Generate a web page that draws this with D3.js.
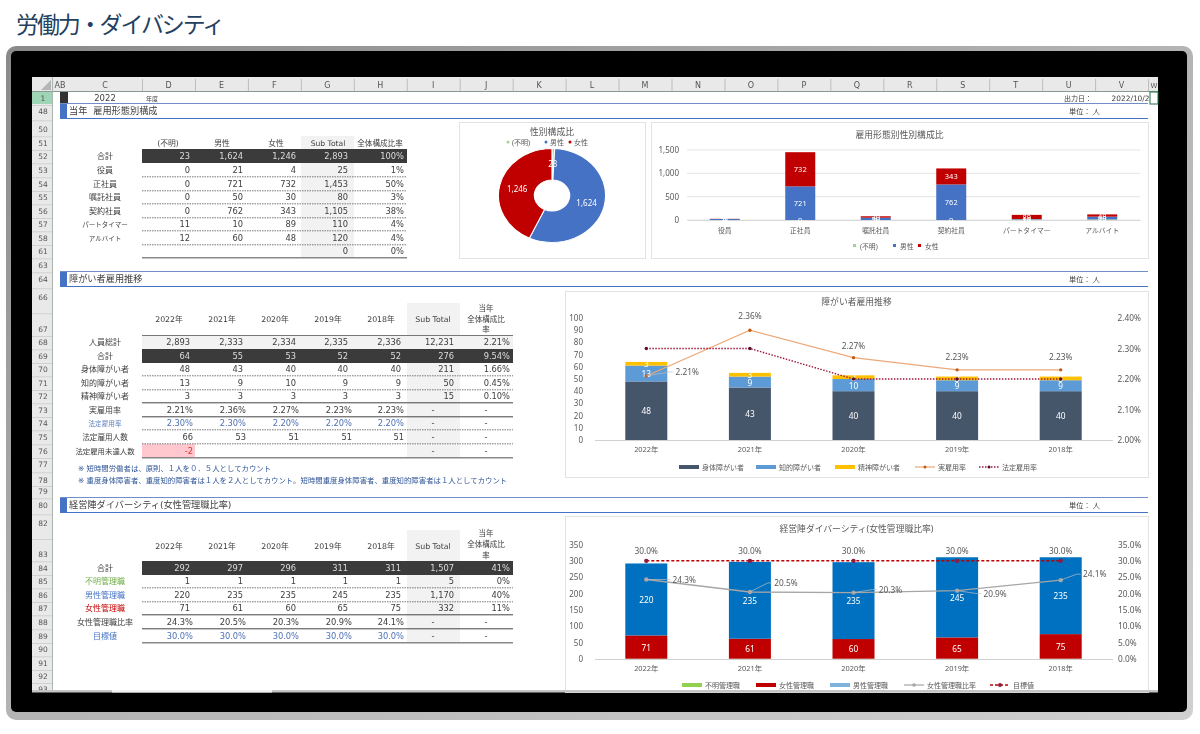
<!DOCTYPE html>
<html lang="ja"><head><meta charset="utf-8">
<script src="https://cdn.jsdelivr.net/npm/d3@7"></script>
<style>
html,body{margin:0;padding:0;background:#fff;overflow:hidden}
svg{display:block}
text{font-family:"DejaVu Sans","Noto Sans CJK JP",sans-serif;font-size:8px;fill:#404040;white-space:pre}
.ch text{font-family:"Noto Sans","Noto Sans CJK JP",sans-serif;fill:#595959}
</style></head><body><div id="c"></div>
<script>
// ---------- sheet furniture ----------
const pageTitle = "労働力・ダイバシティ";
const colLetters = ["C","D","E","F","G","H","I","J","K","L","M","N","O","P","Q","R","S","T","U","V"];
const rowNumbers = [1,48,50,51,52,53,54,55,56,57,58,61,63,64,66,67,68,69,70,71,72,73,74,75,76,77,78,79,80,82,83,84,85,86,87,88,89,90,91,92,93];
const sectionTitles = ["当年  雇用形態別構成","障がい者雇用推移","経営陣ダイバーシティ(女性管理職比率)"];
// ---------- table 1 ----------
const empHead = ["(不明)","男性","女性","Sub Total","全体構成比率"];
const empRows = [
 ["合計","23","1,624","1,246","2,893","100%"],
 ["役員","0","21","4","25","1%"],
 ["正社員","0","721","732","1,453","50%"],
 ["嘱託社員","0","50","30","80","3%"],
 ["契約社員","0","762","343","1,105","38%"],
 ["パートタイマー","11","10","89","110","4%"],
 ["アルバイト","12","60","48","120","4%"],
 ["","","","","0","0%"]];
// ---------- table 2 ----------
const yearHead = ["2022年","2021年","2020年","2019年","2018年","Sub Total"];
const shareHead = ["当年","全体構成比","率"];
const disRows = [
 ["人員総計","2,893","2,333","2,334","2,335","2,336","12,231","2.21%"],
 ["合計","64","55","53","52","52","276","9.54%"],
 ["身体障がい者","48","43","40","40","40","211","1.66%"],
 ["知的障がい者","13","9","10","9","9","50","0.45%"],
 ["精神障がい者","3","3","3","3","3","15","0.10%"],
 ["実雇用率","2.21%","2.36%","2.27%","2.23%","2.23%","-","-"],
 ["法定雇用率","2.30%","2.30%","2.20%","2.20%","2.20%","-","-"],
 ["法定雇用人数","66","53","51","51","51","-","-"],
 ["法定雇用未達人数","-2","","","","","-","-"]];
const notes = ["※ 短時間労働者は、原則、１人を０．５人としてカウント",
 "※ 重度身体障害者、重度知的障害者は１人を２人としてカウント。短時間重度身体障害者、重度知的障害者は１人としてカウント"];
// ---------- table 3 ----------
const mgrRows = [
 ["合計","292","297","296","311","311","1,507","41%"],
 ["不明管理職","1","1","1","1","1","5","0%"],
 ["男性管理職","220","235","235","245","235","1,170","40%"],
 ["女性管理職","71","61","60","65","75","332","11%"],
 ["女性管理職比率","24.3%","20.5%","20.3%","20.9%","24.1%","-","-"],
 ["目標値","30.0%","30.0%","30.0%","30.0%","30.0%","-","-"]];
// ---------- charts ----------
const genderNames = ["(不明)","男性","女性"];
const genderTotals = [23,1624,1246];
const empCats = ["役員","正社員","嘱託社員","契約社員","パートタイマー","アルバイト"];
const empUnknown = [0,0,0,0,11,12];
const empMale = [21,721,50,762,10,60];
const empFemale = [4,732,30,343,89,48];
const years = ["2022年","2021年","2020年","2019年","2018年"];
const disPhysical = [48,43,40,40,40];
const disIntellectual = [13,9,10,9,9];
const disMental = [3,3,3,3,3];
const disActual = [2.21,2.36,2.27,2.23,2.23];
const disLegal = [2.30,2.30,2.20,2.20,2.20];
const mgrUnknown = [1,1,1,1,1];
const mgrFemale = [71,61,60,65,75];
const mgrMale = [220,235,235,245,235];
const mgrRatio = [24.3,20.5,20.3,20.9,24.1];
const mgrTarget = [30,30,30,30,30];

const svg = d3.select("#c").append("svg").attr("width",1200).attr("height",734);
const defs = svg.append("defs");
const g0 = defs.append("linearGradient").attr("id","fr").attr("x1",0).attr("y1",0).attr("x2",1).attr("y2",1);
g0.append("stop").attr("offset",0).attr("stop-color","#8a8a8a");
g0.append("stop").attr("offset",.5).attr("stop-color","#b4b4b4");
g0.append("stop").attr("offset",1).attr("stop-color","#d0d0d0");
defs.append("filter").attr("id","soft").append("feGaussianBlur").attr("stdDeviation",0.35);

// title
svg.append("text").attr("x",16).attr("y",33).text(pageTitle)
  .style("font-family",'"Noto Sans CJK JP"').style("font-size","23px").style("letter-spacing","-2.1px").style("fill","#23405e");
// monitor frame
svg.append("rect").attr("x",6).attr("y",46).attr("width",1187).attr("height",674).attr("rx",10).attr("fill","url(#fr)");
svg.append("rect").attr("x",11).attr("y",51).attr("width",1176).attr("height",661).attr("rx",5).attr("fill","#000");

const root = svg.append("g").attr("filter","url(#soft)");
// sheet
root.append("rect").attr("x",32).attr("y",77).attr("width",1126).attr("height",615).attr("fill","#fff");
root.append("rect").attr("x",32).attr("y",77).attr("width",1126).attr("height",15).attr("fill","#e9e9e9");
root.append("rect").attr("x",32).attr("y",77).attr("width",21).attr("height",615).attr("fill","#e9e9e9");
root.append("path").attr("d","M51 80V90H41Z").attr("fill","#b5b5b5");
root.append("rect").attr("x",32).attr("y",91).attr("width",1126).attr("height",1).attr("fill","#8a9a90");
// column header
const xOf = i => i===0 ? 68 : 142 + (i-1)*52.95;
root.selectAll(".cl").data(colLetters).join("text").attr("class","cl")
  .attr("x",(d,i)=> i===0?105:xOf(i)+26.5).attr("y",88).attr("text-anchor","middle").text(d=>d).style("font-size","8px").style("fill","#555");
root.selectAll(".cs").data(colLetters).join("rect").attr("class","cs")
  .attr("x",(d,i)=>xOf(i+1)).attr("y",79).attr("width",1).attr("height",12).attr("fill","#bdbdbd");
root.append("text").attr("x",60).attr("y",88).attr("text-anchor","middle").text("AB").style("font-size","8px").style("fill","#555");
root.append("text").attr("x",1154).attr("y",88).attr("text-anchor","middle").text("W").style("font-size","7px").style("fill","#555");
// row header
const rowY = [98,111,129,143,156,170,184,197,211,224,238,251,265,279,297,329,342,356,369,383,396,410,423,437,451,464,480,491,505,523,554,568,581,595,608,622,636,649,663,676,689];
root.append("rect").attr("x",32).attr("y",92).attr("width",21).attr("height",12).attr("fill","#9fd5b7");
root.append("rect").attr("x",52).attr("y",77).attr("width",1).attr("height",615).attr("fill","#a9b5ad");
root.selectAll(".rn").data(rowNumbers).join("text").attr("class","rn")
  .attr("x",43).attr("y",(d,i)=>rowY[i]+3).attr("text-anchor","middle").text(d=>d).style("font-size","7.5px").style("fill","#555");
root.selectAll(".rs").data(rowNumbers.slice(0,-1)).join("rect").attr("class","rs")
  .attr("x",32).attr("y",(d,i)=>(rowY[i]+rowY[i+1])/2+0.5).attr("width",20).attr("height",0.7).attr("fill","#c8c8c8");

// row 1
root.append("rect").attr("x",60).attr("y",92).attr("width",8).attr("height",11).attr("fill","#333");
root.append("text").attr("x",105).attr("y",101).attr("text-anchor","middle").text("2022").style("font-size","8.5px");
root.append("text").attr("x",146).attr("y",101).text("年度").style("font-size","6px");
root.append("text").attr("x",1064).attr("y",101).text("出力日：").style("font-size","7px");
root.append("text").attr("x",1149.5).attr("y",101).attr("text-anchor","end").text("2022/10/2").style("font-size","7.4px");
root.append("rect").attr("x",1150).attr("y",92).attr("width",8).attr("height",12).attr("fill","none").attr("stroke","#1d7044");

// sections
const secTop = [103,271,497], secH = [15,15,15];
sectionTitles.forEach((t,i)=>{
  const y=secTop[i];
  root.append("rect").attr("x",60).attr("y",y).attr("width",7).attr("height",secH[i]).attr("fill","#4472c4");
  root.append("line").attr("x1",60).attr("x2",1148).attr("y1",y+.5).attr("y2",y+.5).attr("stroke","#6f8fc9");
  root.append("line").attr("x1",60).attr("x2",1148).attr("y1",y+secH[i]+.5).attr("y2",y+secH[i]+.5).attr("stroke","#4472c4").attr("stroke-width",1.2);
  root.append("text").attr("x",69).attr("y",y+11).text(t).style("font-size","9.2px");
  root.append("text").attr("x",1069).attr("y",y+11).text("単位： 人").style("font-size","7.2px");
});

// tables
const labelSize = d => ({"パートタイマー":"6.5px","アルバイト":"6.5px","法定雇用率":"6.6px","法定雇用未達人数":"7.4px","法定雇用人数":"7.6px"}[d] || "8px");
function drawTable(rows, rowCenters, cfg){
  const g = root.append("g");
  g.selectAll(".g").data(cfg.gray).join("rect").attr("x",d=>d[0]).attr("y",d=>d[1]).attr("width",d=>d[2]).attr("height",d=>d[3]).attr("fill","#f2f2f2");
  (cfg.fills||[]).forEach(f=>g.append("rect").attr("x",f[0]).attr("y",f[1]).attr("width",f[2]).attr("height",f[3]).attr("fill",f[4]));
  const tr = g.selectAll(".r").data(rows).join("g").attr("transform",(d,i)=>`translate(0,${rowCenters[i]})`);
  tr.each(function(row,ri){
    const sel = d3.select(this);
    const dark = cfg.dark===ri;
    if(dark) sel.append("rect").attr("x",142).attr("y",-7).attr("width",cfg.right-142).attr("height",14).attr("fill","#3b3b3b");
    const ln = cfg.lines[ri];
    if(ln) sel.append("line").attr("x1",142).attr("x2",cfg.right).attr("y1",6.8).attr("y2",6.8)
       .attr("stroke",ln==="s"?"#444":(ln==="b"?"#888":"#777")).attr("stroke-width",ln==="b"?1.5:1)
       .attr("stroke-dasharray",ln==="d"?"1.5 1":null);
    sel.selectAll("text").data(row).join("text")
      .attr("x",(d,i)=> i===0?105:cfg.rightEdge(i-1, row, ri)).attr("y",3)
      .attr("text-anchor",(d,i)=> i===0?"middle":(d==="-"?"middle":"end"))
      .text(d=>d)
      .style("font-size",(d,i)=> i===0?labelSize(d):"8.3px")
      .style("fill",(d,i)=> dark&&i>0?"#dcdcdc":(cfg.color?cfg.color(ri,i,d):"#404040"));
  });
  return g;
}
const right1=[190,243,296,348,404];
drawTable(empRows,[156,170,184,197,211,224,238,251],{
  gray:[[301,136,53,122]],dark:0,right:407,
  lines:["","d","d","d","d","d","d","b"],
  rightEdge:i=>right1[i]});
root.selectAll(".h1").data(empHead).join("text").attr("class","h1")
  .attr("x",(d,i)=>[168,222,276,328,380][i]).attr("y",146).attr("text-anchor","middle").text(d=>d)
  .style("font-size",(d,i)=>i===3?"7.6px":(i===4?"7.6px":"7.8px"));

const right2=[190,243,296,348,401,454,510], pctRows=[5,6,7,8];
drawTable(disRows,[342,356,369,383,396,410,423,437,451],{
  gray:[[407,303,53,154]],dark:1,right:513,
  fills:[[142,335.5,371,13.5,"#f2f2f2"],[142,444,53,13,"#ffc7ce"]],
  lines:["","","d","d","s","s","d","d","b"],
  rightEdge:(i,row,ri)=> i>=5&&row[i+1]==="-"? (i===5?433:486) : (pctRows.includes(ri)&&i<5? [193,246,299,352,404][i]:right2[i]),
  color:(r,i,d)=> r===6?(i===0?"#5f7fc0":(i<6?"#4f72b8":"#404040")) : (r===8&&i===1?"#e0302f":"#404040")});
function heads(y,ys){
  root.selectAll(null).data(yearHead).join("text")
   .attr("x",(d,i)=>[169,222,275,328,381,433][i]).attr("y",y).attr("text-anchor","middle").text(d=>d).style("font-size","7.8px");
  root.selectAll(null).data(shareHead).join("text")
   .attr("x",486).attr("y",(d,i)=>ys[i]).attr("text-anchor","middle").text(d=>d).style("font-size","7.5px");
}
heads(322,[311,322,332]);
root.append("line").attr("x1",142).attr("x2",513).attr("y1",335.5).attr("y2",335.5).attr("stroke","#777");
root.selectAll(".nt").data(notes).join("text").attr("x",78).attr("y",(d,i)=>[471,483][i]).text(d=>d)
  .style("font-size","7.4px").style("fill","#2f5597");

const mgrC = ["#404040","#70ad47","#4472c4","#c00000","#404040","#4472c4"];
drawTable(mgrRows,[568,581,595,608,622,636],{
  gray:[[407,530,53,113]],dark:0,right:513,
  lines:["","d","d","s","s","b"],
  rightEdge:(i,row,ri)=> i>=5&&row[i+1]==="-"? (i===5?433:486) : (ri>=4&&i<5? [193,246,299,352,404][i]:right2[i]),
  color:(r,i,d)=> i===0?mgrC[r]:(r===5&&i<6?"#4f72b8":"#404040")});
heads(549,[536,547,558]);

// ---------- chart helpers ----------
function panel(x,y,w,h,title,ty){
  const g = root.append("g").attr("class","ch");
  g.append("rect").attr("x",x+.5).attr("y",y+.5).attr("width",w).attr("height",h).attr("fill","#fff").attr("stroke","#e3e3e3");
  g.append("text").attr("x",x+w/2).attr("y",ty).attr("text-anchor","middle").text(title).style("font-size","8.8px");
  return g;
}

// ---------- donut ----------
{
  const g = panel(459,122,186,136,"性別構成比",135);
  const cols = ["#a9d18e","#4472c4","#c00000"];
  const pie = d3.pie().sort(null)(genderTotals);
  const arc = d3.arc().innerRadius(15.5).outerRadius(47);
  const sx = 1.14;
  const dg = g.append("g").attr("transform",`translate(552,195.5) scale(${sx},1)`);
  dg.selectAll("path").data(pie).join("path").attr("d",arc).attr("fill",(d,i)=>cols[i]).attr("stroke","#fff").attr("stroke-width",1);
  g.selectAll(".pl").data(pie).join("text").attr("class","pl")
    .attr("x",d=>552+arc.centroid(d)[0]*sx).attr("y",d=>195.5+arc.centroid(d)[1]+3).attr("text-anchor","middle")
    .text(d=>d3.format(",")(d.value)).style("fill","#fff").style("font-size","8px");
  const lx=[512,550,574];
  g.selectAll(".pk").data(genderNames).join("circle").attr("cx",(d,i)=>lx[i]-4).attr("cy",142).attr("r",1.5).attr("fill",(d,i)=>cols[i]);
  g.selectAll(".pt").data(genderNames).join("text").attr("x",(d,i)=>lx[i]).attr("y",145).text(d=>d).style("font-size","7px");
}
// ---------- employment stacked ----------
{
  const g = panel(651,122,497,136,"雇用形態別性別構成比",138);
  const x = d3.scaleBand().domain(empCats).range([687,1140]);
  const y = d3.scaleLinear().domain([0,1500]).range([220,150]);
  const ax = g.append("g").call(d3.axisLeft(y).ticks(3).tickFormat(d3.format(",")).tickSize(0)).attr("transform","translate(682,0)");
  ax.select(".domain").remove(); ax.selectAll("text").style("font-size","8px");
  g.selectAll(".gl").data(y.ticks(3)).join("line").attr("x1",687).attr("x2",1140).attr("y1",d=>y(d)).attr("y2",d=>y(d)).attr("stroke","#e4e4e4");
  const ax2 = g.append("g").attr("transform","translate(0,220)").call(d3.axisBottom(x).tickSize(0).tickPadding(8));
  ax2.select(".domain").attr("stroke","#d9d9d9"); ax2.selectAll("text").style("font-size","6.8px");
  const rows = empCats.map((cat,i)=>({cat,u:empUnknown[i],m:empMale[i],f:empFemale[i]}));
  const keys=["u","m","f"], cols={u:"#a9d18e",m:"#4472c4",f:"#c00000"};
  const st = d3.stack().keys(keys)(rows);
  const bw=30;
  const s = g.selectAll(".s").data(st).join("g").attr("fill",d=>cols[d.key]);
  s.selectAll("rect").data(d=>d).join("rect").attr("x",d=>x(d.data.cat)+x.bandwidth()/2-bw/2).attr("width",bw)
    .attr("y",d=>y(d[1])).attr("height",d=>y(d[0])-y(d[1]));
  const lb = g.selectAll(".sl").data(st).join("g");
  lb.selectAll("text").data(d=>d.map(v=>({v,k:d.key}))).join("text")
    .attr("x",d=>x(d.v.data.cat)+x.bandwidth()/2).attr("y",d=>(y(d.v[0])+y(d.v[1]))/2+3)
    .attr("text-anchor","middle").text(d=>d.v[1]-d.v[0]).style("fill","#fff").style("font-size","7.5px");
  const lx=[860,900,925];
  g.selectAll(".k").data(genderNames).join("rect").attr("x",(d,i)=>lx[i]-7).attr("y",244).attr("width",3).attr("height",3).attr("fill",(d,i)=>["#a9d18e","#4472c4","#c00000"][i]);
  g.selectAll(".kt").data(genderNames).join("text").attr("x",(d,i)=>lx[i]).attr("y",249).text(d=>d).style("font-size","6.8px");
}
// ---------- combo charts ----------
function combo(o){
  const g = panel(565,o.top,583,o.h,o.title,o.ty);
  const x = d3.scaleBand().domain(years).range([594.5,1112.5]);
  const cx = d=>x(d)+x.bandwidth()/2;
  const y = d3.scaleLinear().domain(o.yDomain).range(o.yRange);
  const y2 = d3.scaleLinear().domain(o.y2Domain).range(o.yRange);
  const a1 = g.append("g").attr("transform","translate(586,0)").call(d3.axisLeft(y).tickValues(d3.range(o.yDomain[0],o.yDomain[1]+1,o.step)).tickSize(0));
  a1.select(".domain").remove(); a1.selectAll("text").style("font-size","8px");
  const a2 = g.append("g").attr("transform","translate(1112,0)").call(d3.axisRight(y2).tickValues(o.y2Ticks).tickFormat(o.fmt).tickSize(0));
  a2.select(".domain").remove(); a2.selectAll("text").attr("x",o.y2x).style("font-size","8.3px");
  const a3 = g.append("g").attr("transform",`translate(0,${o.yRange[0]})`).call(d3.axisBottom(x).tickSize(0).tickPadding(7));
  a3.select(".domain").attr("stroke","#d0d0d0"); a3.selectAll("text").style("font-size","7.4px");
  const rows = years.map((cat,i)=>{const r={cat}; o.keys.forEach(k=>r[k.key]=k.vals[i]); return r;});
  const st = d3.stack().keys(o.keys.map(k=>k.key))(rows);
  const s = g.selectAll(".s").data(st).join("g").attr("fill",(d,i)=>o.keys[i].bar);
  s.selectAll("rect").data(d=>d).join("rect").attr("x",d=>cx(d.data.cat)-21).attr("width",42)
    .attr("y",d=>y(d[1])).attr("height",d=>y(d[0])-y(d[1]));
  const lb = g.selectAll(".sl").data(st.filter((d,i)=>!o.keys[i].nolabel)).join("g");
  lb.selectAll("text").data(d=>d).join("text").attr("x",d=>cx(d.data.cat)).attr("y",d=>(y(d[0])+y(d[1]))/2+3.5)
    .attr("text-anchor","middle").text(d=>d[1]-d[0]).style("fill","#fff").style("font-size","8.3px");
  const line = d3.line().x((d,i)=>cx(years[i])).y(d=>y2(d));
  o.lines.forEach(l=>{
    g.append("path").attr("d",line(l.vals)).attr("fill","none").attr("stroke",l.color).attr("stroke-width",l.w).attr("stroke-dasharray",l.dash||null);
    g.selectAll(null).data(l.vals).join("circle").attr("cx",(d,i)=>cx(years[i])).attr("cy",d=>y2(d)).attr("r",l.r)
      .attr("fill",l.mk);
    if(l.labels){
      const off=l.labels;
      g.selectAll(null).data(l.vals).join("text").attr("x",(d,i)=>cx(years[i])+off[i][0]).attr("y",(d,i)=>y2(d)+off[i][1])
        .attr("text-anchor","middle").text(d=>o.fmt(d)).style("font-size","8.3px");
      if(l.leaders) g.selectAll(null).data(l.vals.map((v,i)=>[v,i]).filter(d=>l.leaders[d[1]])).join("path")
        .attr("d",d=>{const a=cx(years[d[1]]),b=y2(d[0]);const q=off[d[1]];
           const ex=a+q[0]-14, ey=b+q[1]-3;
           return `M${a} ${b}L${ex-4} ${ey}L${ex} ${ey}`;})
        .attr("fill","none").attr("stroke","#bfbfbf").attr("stroke-width",.7);
    }
  });
  // legend
  const lg = g.append("g");
  const it = lg.selectAll("g").data(o.legend).join("g").attr("transform",d=>`translate(${d.x},${o.ly})`);
  it.each(function(d){
    const e=d3.select(this);
    if(d.type==="bar") e.append("rect").attr("x",0).attr("y",-2).attr("width",20).attr("height",4).attr("fill",d.color);
    else{
      e.append("line").attr("x1",0).attr("x2",20).attr("stroke",d.color).attr("stroke-width",d.w).attr("stroke-dasharray",d.dash||null);
      e.append("circle").attr("cx",10).attr("r",d.r).attr("fill",d.mk);
    }
    e.append("text").attr("x",23).attr("y",2.7).text(d.name).style("font-size","7px");
  });
}
combo({top:291,h:186,title:"障がい者雇用推移",ty:305,yDomain:[0,100],step:10,yRange:[440,318],
  y2Domain:[2.0,2.4],y2Ticks:[2.0,2.1,2.2,2.3,2.4],fmt:d=>d.toFixed(2)+"%",y2x:5.5,
  keys:[{key:"a",vals:disPhysical,bar:"#44546a"},{key:"b",vals:disIntellectual,bar:"#5b9bd5"},{key:"d",vals:disMental,bar:"#ffc000"}],
  lines:[
   {vals:disActual,color:"#eda878",w:1.2,r:1.7,mk:"#c55a11",labels:[[41,-1],[0,-11],[0,-9],[0,-10],[0,-10]],leaders:[1,0,0,0,0]},
   {vals:disLegal,color:"#a0173a",w:1.4,dash:"1.5 1.5",r:1.7,mk:"#5b0f2e"}],
  ly:467,legend:[
   {x:679,type:"bar",color:"#44546a",name:"身体障がい者"},
   {x:756,type:"bar",color:"#5b9bd5",name:"知的障がい者"},
   {x:835,type:"bar",color:"#ffc000",name:"精神障がい者"},
   {x:915,type:"line",color:"#eda878",w:1.2,r:1.5,mk:"#c55a11",name:"実雇用率"},
   {x:979,type:"line",color:"#a0173a",w:1.4,dash:"1.5 1.5",r:1.5,mk:"#5b0f2e",name:"法定雇用率"}]});
combo({top:516,h:176,title:"経営陣ダイバーシティ(女性管理職比率)",ty:532,yDomain:[0,350],step:50,yRange:[659,544.5],
  y2Domain:[0,35],y2Ticks:[0,5,10,15,20,25,30,35],fmt:d=>d.toFixed(1)+"%",y2x:6,
  keys:[{key:"u",vals:mgrUnknown,bar:"#92d050",nolabel:true},{key:"f",vals:mgrFemale,bar:"#c00000"},{key:"m",vals:mgrMale,bar:"#0070c0"}],
  lines:[
   {vals:mgrRatio,color:"#a6a6a6",w:1.4,r:2.2,mk:"#a6a6a6",labels:[[38,3],[36,-6],[37,0],[38,6],[34,-3]],leaders:[1,1,1,1,1]},
   {vals:mgrTarget,color:"#c00000",w:1.5,dash:"3 2",r:2.2,mk:"#8e1b3e",labels:[[0,-7],[0,-7],[0,-7],[0,-7],[0,-7]]}],
  ly:685,legend:[
   {x:682,type:"bar",color:"#92d050",name:"不明管理職"},
   {x:756,type:"bar",color:"#c00000",name:"女性管理職"},
   {x:830,type:"bar",color:"#7fb2dd",name:"男性管理職"},
   {x:904,type:"line",color:"#a6a6a6",w:1.2,r:1.8,mk:"#a6a6a6",name:"女性管理職比率"},
   {x:990,type:"line",color:"#c00000",w:1.4,dash:"3 2",r:2,mk:"#8e1b3e",name:"目標値"}]});
// scrollbar sliver
root.append("rect").attr("x",32).attr("y",690).attr("width",1126).attr("height",2.5).attr("fill","#c4c4c4");
root.append("rect").attr("x",112).attr("y",690).attr("width",160).attr("height",2.5).attr("fill","#f2f2f2");
</script></body></html>
